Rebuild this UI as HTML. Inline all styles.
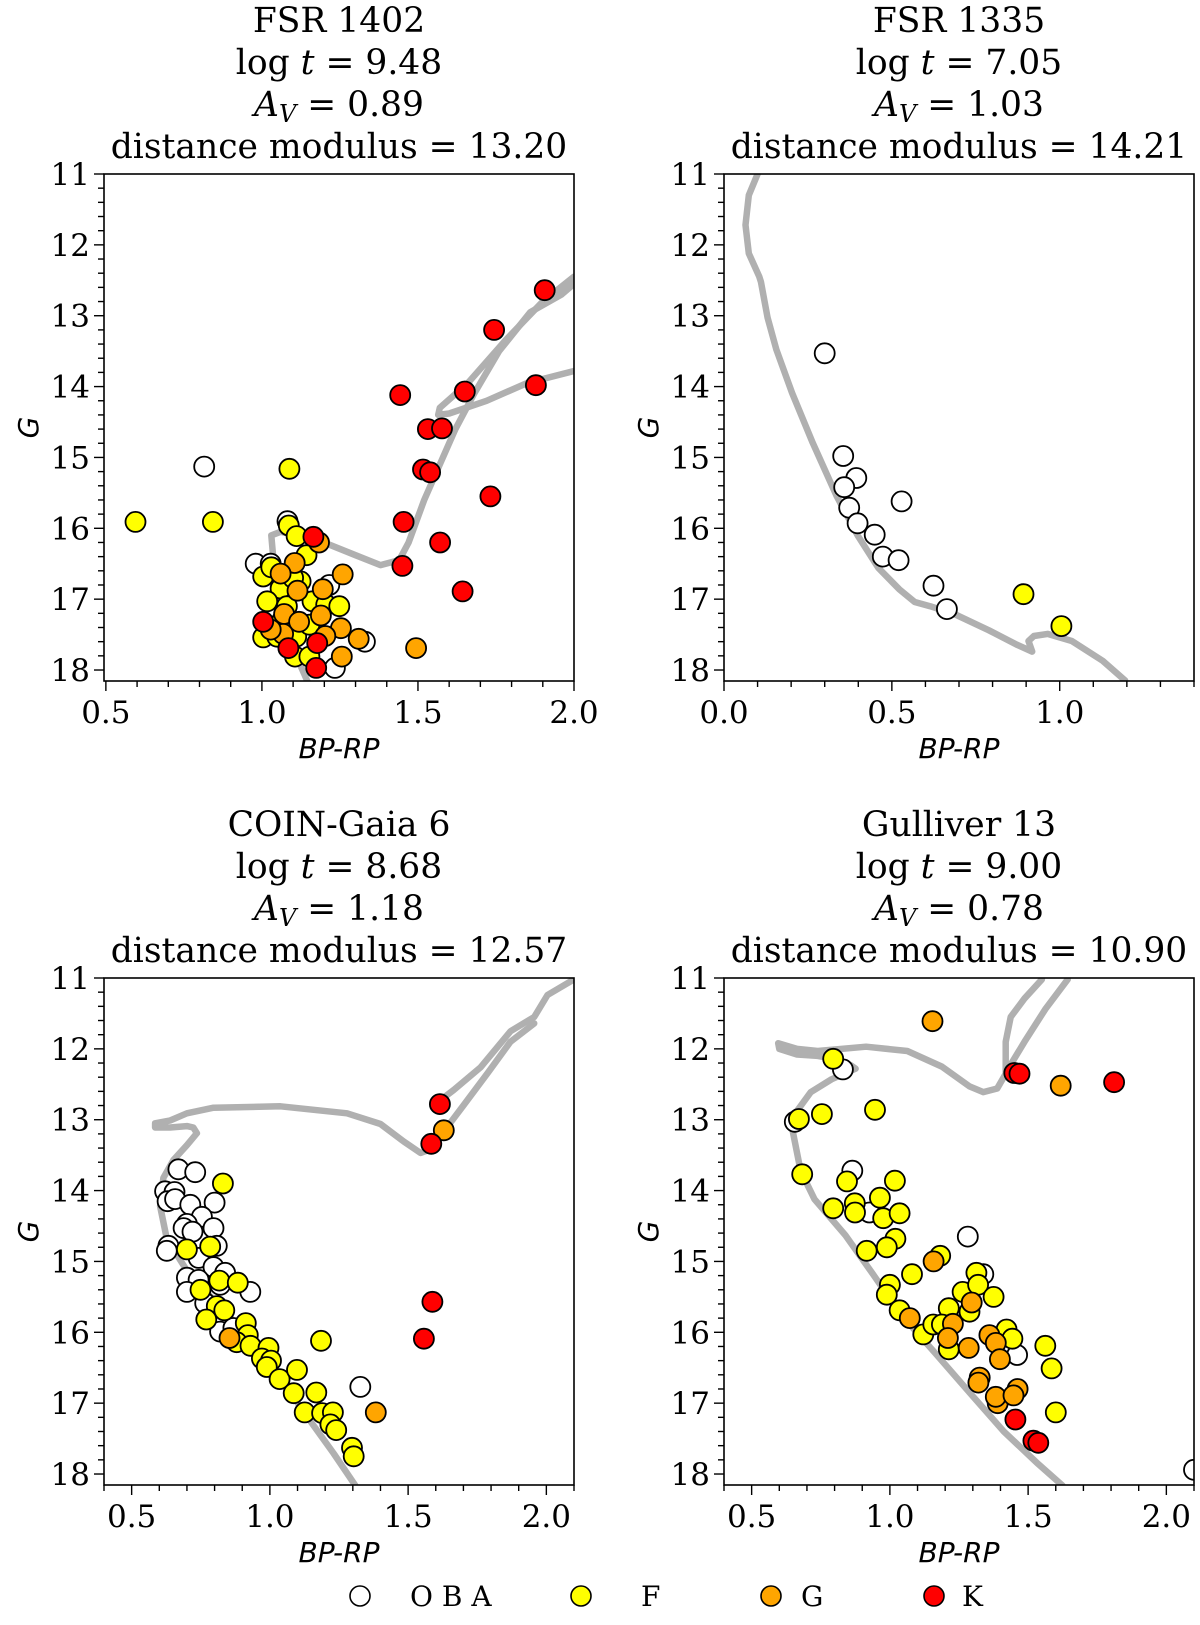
<!DOCTYPE html>
<html><head><meta charset="utf-8"><title>CMDs</title>
<style>
html,body{margin:0;padding:0;background:#fff;}
svg{display:block;}
text{font-family:"DejaVu Serif","Liberation Serif",serif;fill:#000;}
.ax{font-family:"DejaVu Sans","Liberation Sans",sans-serif;font-style:italic;}
</style></head>
<body>
<svg id="fig" width="1200" height="1625" viewBox="0 0 1200 1625" xmlns="http://www.w3.org/2000/svg">
<g id="legend">
  <circle cx="360" cy="1596" r="10" fill="#fff" stroke="#000" stroke-width="1.6"/>
  <text x="410" y="1606" font-size="28">O B A</text>
  <circle cx="581" cy="1596" r="10" fill="#ffff00" stroke="#000" stroke-width="1.6"/>
  <text x="641" y="1606" font-size="28">F</text>
  <circle cx="771" cy="1596" r="10" fill="#ffa500" stroke="#000" stroke-width="1.6"/>
  <text x="801" y="1606" font-size="28">G</text>
  <circle cx="934" cy="1596" r="10" fill="#ff0000" stroke="#000" stroke-width="1.6"/>
  <text x="962" y="1606" font-size="28">K</text>
</g>
</svg>
<script>
// ---------- Panel 1: FSR 1402 ----------
const p1Iso = [[1.15,18.2],[1.11,17.8],[1.07,17.2],[1.04,16.6],[1.03,16.1],[1.06,16.05],[1.17,16.15],[1.30,16.38],[1.38,16.52],[1.44,16.45],[1.47,16.2],[1.52,15.6],[1.57,15.1],[1.62,14.6],[1.68,14.1],[1.76,13.5],[1.86,12.95],[1.96,12.7],[2.0,12.55]];
const p1Iso2 = [[2.0,12.45],[1.9,12.8],[1.78,13.35],[1.66,13.95],[1.57,14.3],[1.565,14.4],[1.60,14.38],[1.72,14.2],[1.85,13.95],[2.0,13.78]];
const p1OBA = [[0.815,15.13],[0.98,16.5],[1.028,16.5],[1.216,16.8],[1.33,17.6],[1.234,17.97],[1.082,15.9]];
const p1F = [[0.595,15.91],[0.843,15.91],[1.088,15.16],[1.086,15.96],[1.111,16.11],[1.143,16.38],[1.004,16.68],[1.03,16.55],[1.06,16.85],[1.124,16.75],[1.017,17.03],[1.162,17.03],[1.206,17.08],[1.248,17.10],[1.004,17.54],[1.049,17.53],[1.11,17.53],[1.152,17.36],[1.106,17.81],[1.152,17.81],[1.08,17.1],[1.10,16.7],[1.065,17.3]];
const p1G = [[1.183,16.20],[1.105,16.49],[1.06,16.64],[1.114,16.88],[1.195,16.86],[1.259,16.65],[1.071,17.21],[1.119,17.32],[1.189,17.23],[1.253,17.41],[1.31,17.56],[1.494,17.69],[1.256,17.81],[1.068,17.49],[1.203,17.52],[1.028,17.43]];
const p1K = [[1.906,12.64],[1.744,13.20],[1.443,14.12],[1.650,14.07],[1.878,13.98],[1.532,14.60],[1.577,14.59],[1.516,15.17],[1.539,15.21],[1.732,15.55],[1.454,15.91],[1.571,16.20],[1.450,16.53],[1.643,16.89],[1.165,16.12],[1.004,17.32],[1.085,17.69],[1.177,17.62],[1.174,17.97]];
// ---------- Panel 2: FSR 1335 ----------
const p2Iso = [[0.10,11.0],[0.074,11.3],[0.064,11.72],[0.074,12.12],[0.105,12.45],[0.11,12.52],[0.13,13.03],[0.156,13.48],[0.203,14.09],[0.264,14.79],[0.336,15.55],[0.398,16.1],[0.46,16.56],[0.522,16.86],[0.568,17.04],[0.614,17.10],[0.686,17.21],[0.789,17.44],[0.871,17.64],[0.918,17.74],[0.907,17.59],[0.923,17.52],[0.964,17.49],[1.036,17.59],[1.128,17.87],[1.195,18.15]];
const p2Iso2 = [];
const p2OBA = [[0.30,13.53],[0.355,14.98],[0.394,15.29],[0.358,15.42],[0.529,15.62],[0.373,15.71],[0.398,15.93],[0.449,16.09],[0.473,16.40],[0.520,16.45],[0.624,16.81],[0.664,17.14]];
const p2F = [[0.892,16.93],[1.005,17.38]];
const p2G = [];
const p2K = [];
// ---------- Panel 3: COIN-Gaia 6 ----------
const p3Iso = [[1.309,18.16],[1.231,17.71],[1.146,17.25],[1.038,16.65],[0.917,16.04],[0.796,15.54],[0.70,15.13],[0.627,14.68],[0.603,14.22],[0.615,13.82],[0.651,13.57],[0.70,13.36],[0.736,13.19],[0.723,13.11],[0.70,13.09],[0.639,13.11],[0.585,13.11],[0.585,13.05],[0.64,13.01],[0.70,12.91],[0.796,12.83],[1.038,12.81],[1.279,12.91],[1.40,13.06],[1.485,13.31],[1.545,13.47],[1.58,13.42],[1.63,13.16],[1.70,12.80],[1.79,12.33],[1.87,11.90],[1.956,11.64]];
const p3Iso2 = [[1.605,12.76],[1.665,12.58],[1.762,12.26],[1.871,11.75],[1.956,11.55],[2.004,11.24],[2.1,11.02]];
const p3OBA = [[0.669,13.70],[0.73,13.74],[0.621,14.01],[0.655,14.02],[0.63,14.15],[0.657,14.12],[0.712,14.20],[0.80,14.17],[0.754,14.37],[0.70,14.47],[0.688,14.53],[0.72,14.58],[0.796,14.53],[0.633,14.78],[0.627,14.85],[0.808,14.78],[0.742,14.95],[0.796,15.08],[0.838,15.16],[0.70,15.23],[0.742,15.26],[0.70,15.43],[0.929,15.43],[0.82,15.33],[0.766,15.59],[0.82,15.99],[1.327,16.77],[0.868,15.94]];
const p3F = [[0.83,13.90],[0.70,14.83],[0.784,14.79],[0.749,15.40],[0.817,15.27],[0.884,15.30],[0.808,15.63],[0.835,15.69],[0.77,15.82],[0.913,15.87],[0.92,16.04],[0.88,16.14],[0.93,16.19],[0.995,16.22],[0.971,16.37],[1.004,16.40],[0.989,16.49],[1.035,16.66],[1.098,16.53],[1.086,16.86],[1.168,16.85],[1.185,16.12],[1.126,17.13],[1.189,17.14],[1.228,17.13],[1.219,17.30],[1.24,17.38],[1.297,17.63],[1.303,17.75]];
const p3G = [[1.629,13.15],[0.854,16.08],[1.383,17.13]];
const p3K = [[1.615,12.78],[1.584,13.34],[1.588,15.57],[1.557,16.09]];
// ---------- Panel 4: Gulliver 13 ----------
const p4Iso = [[1.624,18.16],[1.537,17.86],[1.412,17.40],[1.288,16.85],[1.163,16.29],[1.038,15.74],[0.939,15.18],[0.839,14.63],[0.727,14.12],[0.677,13.72],[0.646,13.11],[0.658,12.91],[0.714,12.61],[0.789,12.43],[0.876,12.28],[0.858,12.23],[0.814,12.15],[0.739,12.10],[0.664,12.08],[0.60,12.0],[0.596,11.92],[0.664,12.0],[0.739,12.03],[0.914,11.97],[1.063,12.03],[1.188,12.25],[1.288,12.53],[1.338,12.61],[1.388,12.56],[1.419,12.35],[1.419,11.90],[1.437,11.55],[1.487,11.29],[1.55,11.02]];
const p4Iso2 = [[1.425,12.30],[1.487,11.90],[1.562,11.44],[1.643,11.02]];
const p4OBA = [[0.83,12.29],[0.656,13.03],[0.864,13.72],[0.926,14.31],[1.282,14.65],[1.338,15.18],[1.46,16.32],[2.1,17.94]];
const p4F = [[0.795,12.14],[0.671,12.99],[0.754,12.92],[0.946,12.86],[0.683,13.77],[0.845,13.87],[1.018,13.86],[0.964,14.10],[0.873,14.18],[0.874,14.31],[0.976,14.39],[1.035,14.32],[0.795,14.25],[1.02,14.68],[0.989,14.80],[0.916,14.85],[1.182,14.92],[1.08,15.18],[1.00,15.33],[0.989,15.47],[1.035,15.69],[1.121,16.03],[1.157,15.89],[1.213,15.66],[1.213,16.24],[1.263,15.43],[1.288,15.71],[1.313,15.16],[1.319,15.33],[1.375,15.50],[1.422,15.96],[1.443,16.09],[1.562,16.19],[1.585,16.51],[1.60,17.13],[1.188,15.89]];
const p4G = [[1.154,11.61],[1.618,12.52],[1.158,15.0],[1.296,15.58],[1.072,15.80],[1.228,15.88],[1.21,16.08],[1.36,16.04],[1.383,16.15],[1.285,16.22],[1.398,16.38],[1.325,16.64],[1.32,16.71],[1.39,17.0],[1.383,16.91],[1.462,16.80],[1.447,16.89]];
const p4K = [[1.45,12.34],[1.469,12.35],[1.811,12.47],[1.454,17.23],[1.519,17.53],[1.537,17.56]];

const titles = [
  ["FSR 1402","9.48","0.89","13.20"],
  ["FSR 1335","7.05","1.03","14.21"],
  ["COIN-Gaia 6","8.68","1.18","12.57"],
  ["Gulliver 13","9.00","0.78","10.90"]
];
const xTickSets = [[0.5,1.0,1.5,2.0],[0.0,0.5,1.0],[0.5,1.0,1.5,2.0],[0.5,1.0,1.5,2.0]];
const yTicks = [11,12,13,14,15,16,17,18];

const NS = "http://www.w3.org/2000/svg";
const fig = document.getElementById("fig");
const legend = document.getElementById("legend");
function mk(tag, attrs, parent){
  const e = document.createElementNS(NS, tag);
  for (const k in attrs) e.setAttribute(k, attrs[k]);
  (parent||fig).appendChild(e);
  return e;
}
const panels = [
  {L:104,T:174,x0:0.494,x1:2.0,iso:p1Iso,iso2:p1Iso2,oba:p1OBA,f:p1F,g:p1G,k:p1K,slug:"fsr-1402"},
  {L:724,T:174,x0:0.0,x1:1.4,iso:p2Iso,iso2:p2Iso2,oba:p2OBA,f:p2F,g:p2G,k:p2K,slug:"fsr-1335"},
  {L:104,T:978,x0:0.4,x1:2.1,iso:p3Iso,iso2:p3Iso2,oba:p3OBA,f:p3F,g:p3G,k:p3K,slug:"coin-gaia-6"},
  {L:724,T:978,x0:0.4,x1:2.1,iso:p4Iso,iso2:p4Iso2,oba:p4OBA,f:p4F,g:p4G,k:p4K,slug:"gulliver-13"}
];
const W=470, H=507, Y0=11, Y1=18.155;
const defs = mk("defs",{});
panels.forEach((p,i)=>{
  const sx = v => p.L + (v - p.x0)/(p.x1 - p.x0)*W;
  const sy = v => p.T + (v - Y0)/(Y1 - Y0)*H;
  const g = mk("g",{});
  
  
  fig.insertBefore(g, legend);
  const cp = mk("clipPath",{id:"clip"+i}, defs);
  mk("rect",{x:p.L,y:p.T,width:W,height:H}, cp);
  const cx = p.L + W/2, tb = p.T - 16;
  const t = titles[i];
  const lines = [
    [[t[0],""]],
    [["log ",""],["t","italic"],[" = "+t[1],""]],
    [["A","italic"],["V","sub"],[" = "+t[2],""]],
    [["distance modulus = "+t[3],""]]
  ];
  lines.forEach((ln,j)=>{
    const tx = mk("text",{x:cx,y:tb-(3-j)*42,"text-anchor":"middle","font-size":"34.5"}, g);
    
    
    ln.forEach(([s,st])=>{
      const ts = mk("tspan",{}, tx);
      if (st==="italic") ts.setAttribute("font-style","italic");
      if (st==="sub"){ ts.setAttribute("font-style","italic"); ts.setAttribute("font-size","24"); ts.setAttribute("dy","6"); }
      if (j===2 && s.startsWith(" =")) ts.setAttribute("dy","-6");
      ts.textContent = s;
    });
  });
  const plot = mk("g",{"clip-path":"url(#clip"+i+")"}, g);
  [p.iso,p.iso2].forEach((arr,j)=>{
    if(!arr.length) return;
    const pl = mk("polyline",{points:arr.map(d=>sx(d[0]).toFixed(1)+","+sy(d[1]).toFixed(1)).join(" "),fill:"none",stroke:"#b0b0b0","stroke-width":"6.5","stroke-linejoin":"round","stroke-linecap":"round"}, plot);
    
    
  });
  [[p.oba,"#ffffff","oba"],[p.f,"#ffff00","f"],[p.g,"#ffa500","g"],[p.k,"#ff0000","k"]].forEach(([arr,col,nm])=>{
    arr.forEach(d=>{
      const c = mk("circle",{cx:sx(d[0]).toFixed(1),cy:sy(d[1]).toFixed(1),r:"10",fill:col,stroke:"#000","stroke-width":"1.8"}, plot);
      
      
    });
  });
  const fr = mk("rect",{x:p.L,y:p.T,width:W,height:H,fill:"none",stroke:"#000","stroke-width":"1.6"}, g);
  
  
  const B = p.T + H;
  for (let v = Math.ceil(p.x0*10-1e-6); v <= Math.floor(p.x1*10+1e-6); v++){
    const X = sx(v/10);
    const major = (v % 5 === 0);
    mk("line",{x1:X,x2:X,y1:B,y2:B+(major?10:6),stroke:"#000","stroke-width":"1.4"}, g);
  }
  xTickSets[i].forEach(v=>{
    const tl = mk("text",{x:sx(v),y:B+42,"text-anchor":"middle","font-size":"31"}, g);
    
    
    tl.textContent = v.toFixed(1);
  });
  for (let v = 55; v <= 90; v++){
    const Y = sy(v/5);
    const major = (v % 5 === 0);
    mk("line",{x1:p.L,x2:p.L-(major?10:6),y1:Y,y2:Y,stroke:"#000","stroke-width":"1.4"}, g);
  }
  yTicks.forEach(v=>{
    const tl = mk("text",{x:p.L-14,y:sy(v)+11,"text-anchor":"end","font-size":"31"}, g);
    
    
    tl.textContent = String(v);
  });
  const xl = mk("text",{x:cx,y:B+77,"text-anchor":"middle","font-size":"28","class":"ax"}, g);
  
  
  xl.textContent = "BP-RP";
  const yx = p.L-66, yy = p.T+H/2;
  const yl = mk("text",{x:yx,y:yy,"text-anchor":"middle","font-size":"28","class":"ax",transform:"rotate(-90 "+yx+" "+yy+")"}, g);
  
  
  yl.textContent = "G";
});
</script>
</body></html>
